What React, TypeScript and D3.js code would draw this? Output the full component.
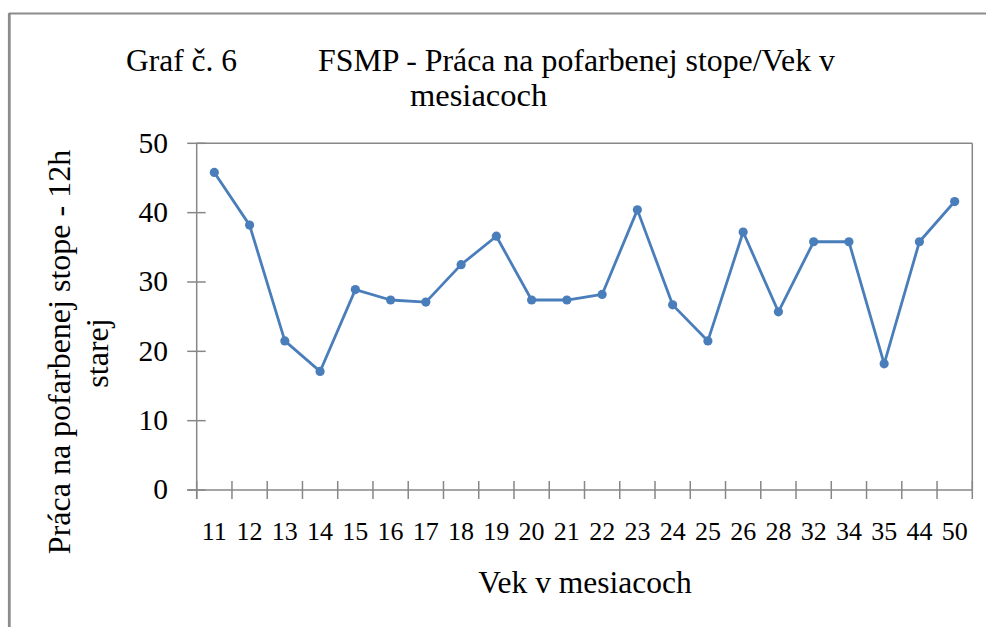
import React from 'react';
import * as d3 from 'd3';

const categories = ['11', '12', '13', '14', '15', '16', '17', '18', '19', '20', '21', '22', '23', '24', '25', '26', '28', '32', '34', '35', '44', '50'];
const values = [45.8, 38.2, 21.5, 17.1, 28.9, 27.4, 27.1, 32.5, 36.6, 27.4, 27.4, 28.2, 40.4, 26.7, 21.5, 37.2, 25.7, 35.8, 35.8, 18.2, 35.8, 41.6];
const yTicks = [0, 10, 20, 30, 40, 50];

const titleLeft = 'Graf č. 6';
const titleMain = 'FSMP - Práca na pofarbenej stope/Vek v';
const titleWrap = 'mesiacoch';
const yTitle = ['Práca na pofarbenej stope - 12h', 'starej'];
const xTitle = 'Vek v mesiacoch';

export default function App() {
    const width = 986;
    const height = 627;
    const left = 196.7, right = 972.3, top = 143.3, bottom = 490;
    const txt = { fontFamily: "'Liberation Serif', 'Tinos', 'DejaVu Serif', serif" };
    const axisColor = '#878787';
    const lineColor = '#4a7ebb';

    const x = d3.scaleBand().domain(categories).range([left, right]).padding(0);
    const y = d3.scaleLinear().domain([0, 50]).range([bottom, top]);

    const pts = values.map((v, i) => [x(categories[i]) + x.bandwidth() / 2, y(v)]);
    const line = d3.line()(pts);

    // tick marks sit on band edges
    const edges = categories.map(c => x(c)).concat([right]);

    return (
        <svg width={width} height={height} style={{ position: 'absolute', left: 0, top: 0, background: '#fff' }}>
            {/* outer frame */}
            <line x1={9} y1={13.5} x2={width} y2={13.5} stroke="#8c8c8c" strokeWidth={2} />
            <line x1={9.3} y1={13} x2={9.3} y2={height} stroke="#8c8c8c" strokeWidth={2.8} />

            <text x={126} y={70.5} style={txt} fontSize={31.5} fill="#000">{titleLeft}</text>
            <text x={318} y={70.5} style={txt} fontSize={32} fill="#000" textLength={517} lengthAdjust="spacingAndGlyphs">{titleMain}</text>
            <text x={410} y={105.5} style={txt} fontSize={32.5} fill="#000">{titleWrap}</text>

            {/* plot area border */}
            <line x1={left} y1={top} x2={right} y2={top} stroke={axisColor} strokeWidth={1.5} />
            <line x1={right} y1={top} x2={right} y2={bottom} stroke={axisColor} strokeWidth={1.5} />

            {/* y axis */}
            <line x1={left} y1={top} x2={left} y2={bottom + 9} stroke={axisColor} strokeWidth={1.5} />
            {yTicks.map(t => (
                <g key={'y' + t}>
                    <line x1={left - 9.5} x2={left + 9} y1={y(t)} y2={y(t)} stroke={axisColor} strokeWidth={1.5} />
                    <text x={168} y={y(t)} dy="0.32em" textAnchor="end" style={txt} fontSize={29.5} fill="#000">{t}</text>
                </g>
            ))}

            {/* x axis */}
            <line x1={left - 9.5} y1={bottom} x2={right} y2={bottom} stroke={axisColor} strokeWidth={1.5} />
            {edges.map((e, i) => (
                <line key={'xt' + i} x1={e} x2={e} y1={bottom - 9} y2={bottom + 9} stroke={axisColor} strokeWidth={1.5} />
            ))}
            {categories.map(c => (
                <text key={'xl' + c} x={x(c) + x.bandwidth() / 2} y={539.5} textAnchor="middle" style={txt} fontSize={26} fill="#000">{c}</text>
            ))}

            <text x={585} y={593} textAnchor="middle" style={txt} fontSize={31.5} fill="#000">{xTitle}</text>

            <text transform="translate(70,352) rotate(-90)" textAnchor="middle" style={txt} fontSize={32} fill="#000">{yTitle[0]}</text>
            <text transform="translate(108,353) rotate(-90)" textAnchor="middle" style={txt} fontSize={32} fill="#000">{yTitle[1]}</text>

            {/* series */}
            <path d={line} fill="none" stroke={lineColor} strokeWidth={2.8} strokeLinejoin="round" />
            {pts.map((p, i) => (
                <circle key={'p' + i} cx={p[0]} cy={p[1]} r={4.6} fill={lineColor} />
            ))}
        </svg>
    );
}
